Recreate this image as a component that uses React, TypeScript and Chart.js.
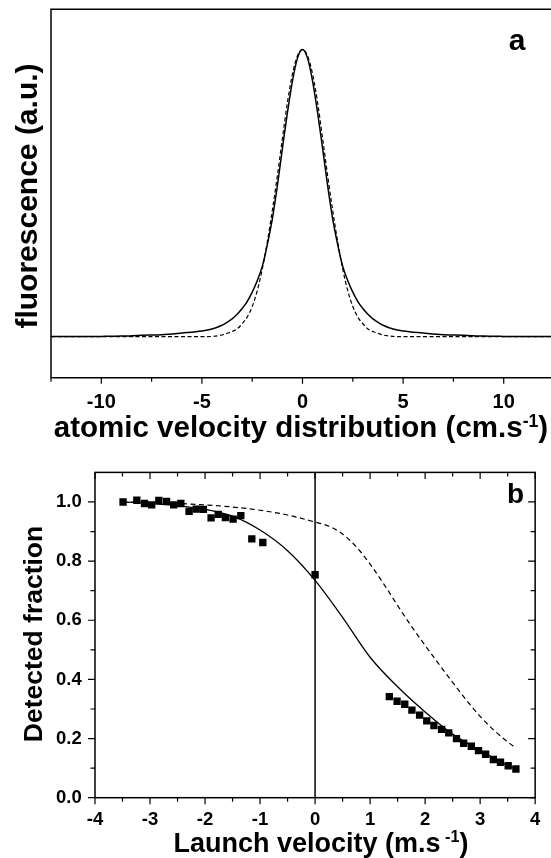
import React, { useEffect, useRef } from 'react';
import { Chart, registerables } from 'chart.js';

Chart.register(...registerables);

const FONT = "'Liberation Sans', Arial, Helvetica, sans-serif";

// ---------- Panel a: fluorescence profiles ----------
const TOP_X = [-12.5, -11, -10, -9, -8, -7, -6, -5, -4.5, -4, -3.75, -3.5, -3.25, -3, -2.75, -2.5, -2.25, -2, -1.75, -1.5, -1.25, -1, -0.75, -0.5, -0.25, 0,
  0.25, 0.5, 0.75, 1, 1.25, 1.5, 1.75, 2, 2.25, 2.5, 2.75, 3, 3.25, 3.5, 3.75, 4, 4.5, 5, 6, 7, 8, 9, 10, 11, 12.35];
const TOP_SOLID = [0.0003, 0.0006, 0.001, 0.002, 0.005, 0.007, 0.013, 0.02, 0.027, 0.04, 0.05, 0.062, 0.078, 0.098, 0.122, 0.155, 0.195, 0.245, 0.32, 0.41, 0.525, 0.655, 0.78, 0.89, 0.97, 1.0,
  0.97, 0.89, 0.78, 0.655, 0.525, 0.41, 0.32, 0.245, 0.195, 0.155, 0.122, 0.098, 0.078, 0.062, 0.05, 0.04, 0.027, 0.02, 0.013, 0.007, 0.005, 0.002, 0.001, 0.0006, 0.0003];
const TOP_DASHED = [0, 0, 0, 0, 0, 0, 0, 0, 0.001, 0.006, 0.012, 0.018, 0.027, 0.045, 0.068, 0.105, 0.16, 0.235, 0.33, 0.44, 0.56, 0.69, 0.815, 0.915, 0.978, 1.0,
  0.978, 0.915, 0.815, 0.69, 0.56, 0.44, 0.33, 0.235, 0.16, 0.105, 0.068, 0.045, 0.027, 0.018, 0.012, 0.006, 0.001, 0, 0, 0, 0, 0, 0, 0, 0];
const TOP_X_TICKS = [-10, -5, 0, 5, 10];
const TOP_X_TICK_LABELS = ['-10', '-5', '0', '5', '10'];
const TOP_X_MINOR = [-12.5, -7.5, -2.5, 2.5, 7.5];

// ---------- Panel b: detected fraction ----------
const B_PTS_X = [-3.49, -3.24, -3.10, -2.97, -2.84, -2.70, -2.57, -2.44, -2.29, -2.16, -2.03, -1.89, -1.76, -1.63, -1.49, -1.35, -1.15, -0.95, 0.0,
  1.35, 1.49, 1.63, 1.76, 1.90, 2.03, 2.16, 2.30, 2.43, 2.57, 2.70, 2.84, 2.97, 3.10, 3.24, 3.37, 3.51, 3.65];
const B_PTS_Y = [1.000, 1.006, 0.995, 0.990, 1.005, 1.002, 0.990, 0.995, 0.968, 0.976, 0.975, 0.946, 0.958, 0.947, 0.942, 0.954, 0.875, 0.863, 0.754,
  0.342, 0.326, 0.316, 0.296, 0.279, 0.260, 0.244, 0.231, 0.219, 0.200, 0.184, 0.174, 0.159, 0.147, 0.129, 0.120, 0.108, 0.097];
const B_FIT_X = [-3.5, -3, -2.5, -2, -1.5, -1, -0.5, 0, 0.5, 1, 1.5, 2, 2.5, 3, 3.5, 3.65];
const B_SOLID_Y = [1.0, 0.995, 0.988, 0.975, 0.952, 0.905, 0.835, 0.735, 0.61, 0.475, 0.375, 0.29, 0.215, 0.16, 0.108, 0.097];
const B_DASH_X = [-3.5, -3, -2.5, -2, -1.5, -1, -0.5, 0, 0.25, 0.5, 0.75, 1, 1.25, 1.5, 1.75, 2, 2.25, 2.5, 2.75, 3, 3.25, 3.5, 3.65];
const B_DASHED_Y = [1.0, 0.998, 0.995, 0.99, 0.983, 0.972, 0.956, 0.932, 0.918, 0.892, 0.848, 0.79, 0.722, 0.65, 0.58, 0.515, 0.452, 0.39, 0.33, 0.275, 0.228, 0.189, 0.168];
const B_VLINE_X = 0;
const B_X_TICKS = [-4, -3, -2, -1, 0, 1, 2, 3, 4];
const B_X_TICK_LABELS = ['-4', '-3', '-2', '-1', '0', '1', '2', '3', '4'];
const B_X_MINOR = [-3.5, -2.5, -1.5, -0.5, 0.5, 1.5, 2.5, 3.5];
const B_Y_TICKS = [0, 0.2, 0.4, 0.6, 0.8, 1.0];
const B_Y_TICK_LABELS = ['0.0', '0.2', '0.4', '0.6', '0.8', '1.0'];
const B_Y_MINOR = [0.1, 0.3, 0.5, 0.7, 0.9];

type Part = [string, boolean];

function drawRich(ctx: CanvasRenderingContext2D, parts: Part[], cx: number, baseline: number, size: number) {
  let total = 0;
  const widths = parts.map(([t, sup]) => {
    ctx.font = `bold ${sup ? size * 0.6 : size}px ${FONT}`;
    const w = ctx.measureText(t).width;
    total += w;
    return w;
  });
  let x = cx - total / 2;
  ctx.textAlign = 'left';
  ctx.textBaseline = 'alphabetic';
  parts.forEach(([t, sup], i) => {
    ctx.font = `bold ${sup ? size * 0.6 : size}px ${FONT}`;
    ctx.fillText(t, x, sup ? baseline - size * 0.36 : baseline);
    x += widths[i];
  });
}

function drawRotated(ctx: CanvasRenderingContext2D, text: string, baselineX: number, cy: number, size: number) {
  ctx.save();
  ctx.translate(baselineX, cy);
  ctx.rotate(-Math.PI / 2);
  ctx.font = `bold ${size}px ${FONT}`;
  ctx.textAlign = 'center';
  ctx.textBaseline = 'alphabetic';
  ctx.fillText(text, 0, 0);
  ctx.restore();
}

const topDecor = {
  id: 'topDecor',
  afterDraw(chart: any) {
    const { ctx, chartArea: a, scales } = chart;
    const x = scales.x;
    ctx.save();
    ctx.strokeStyle = '#000';
    ctx.lineWidth = 1.5;
    ctx.beginPath();
    ctx.moveTo(a.right + 2, a.top);
    ctx.lineTo(a.left, a.top);
    ctx.lineTo(a.left, a.bottom);
    ctx.lineTo(a.right + 2, a.bottom);
    ctx.stroke();
    ctx.lineWidth = 1.2;
    ctx.beginPath();
    TOP_X_TICKS.forEach((v) => {
      const p = x.getPixelForValue(v);
      ctx.moveTo(p, a.bottom);
      ctx.lineTo(p, a.bottom + 6);
    });
    TOP_X_MINOR.forEach((v) => {
      const p = x.getPixelForValue(v);
      ctx.moveTo(p, a.bottom);
      ctx.lineTo(p, a.bottom + 4);
    });
    ctx.stroke();
    ctx.fillStyle = '#000';
    drawRotated(ctx, 'fluorescence (a.u.)', 37, 196, 30);
    drawRich(ctx, [['atomic velocity distribution (cm.s', false], ['-1', true], [')', false]], 301, 437.3, 29.5);
    ctx.font = `bold 30px ${FONT}`;
    ctx.textAlign = 'center';
    ctx.textBaseline = 'alphabetic';
    ctx.fillText('a', 517, 50);
    ctx.restore();
  },
};

const botDecor = {
  id: 'botDecor',
  afterDraw(chart: any) {
    const { ctx, chartArea: a, scales } = chart;
    const x = scales.x;
    const y = scales.y;
    ctx.save();
    ctx.strokeStyle = '#000';
    ctx.lineWidth = 1.5;
    ctx.strokeRect(a.left, a.top, a.right - a.left, a.bottom - a.top);
    ctx.lineWidth = 1.2;
    ctx.beginPath();
    const xt = (vals: number[], len: number) => vals.forEach((v) => {
      const p = x.getPixelForValue(v);
      ctx.moveTo(p, a.bottom);
      ctx.lineTo(p, a.bottom + len);
      ctx.moveTo(p, a.top);
      ctx.lineTo(p, a.top + len);
    });
    const yt = (vals: number[], len: number) => vals.forEach((v) => {
      const p = y.getPixelForValue(v);
      ctx.moveTo(a.left, p);
      ctx.lineTo(a.left - len, p);
      ctx.moveTo(a.right, p);
      ctx.lineTo(a.right - len, p);
    });
    xt(B_X_TICKS, 6.5);
    xt(B_X_MINOR, 4);
    yt(B_Y_TICKS, 7);
    yt(B_Y_MINOR, 4.5);
    ctx.stroke();
    ctx.fillStyle = '#000';
    drawRotated(ctx, 'Detected fraction', 41.5, 186, 26.5);
    drawRich(ctx, [['Launch velocity (m.s', false], [' -1', true], [')', false]], 321, 403.7, 27);
    ctx.font = `bold 28px ${FONT}`;
    ctx.textAlign = 'center';
    ctx.textBaseline = 'alphabetic';
    ctx.fillText('b', 515.6, 55.3);
    ctx.restore();
  },
};

export default function App() {
  const topRef = useRef<HTMLCanvasElement>(null);
  const botRef = useRef<HTMLCanvasElement>(null);

  useEffect(() => {
    const tickFont = (size: number) => ({ family: FONT, size, weight: 'bold' as const });

    const top = new Chart(topRef.current as HTMLCanvasElement, {
      type: 'line',
      data: {
        datasets: [
          {
            data: TOP_X.map((v, i) => ({ x: v, y: TOP_SOLID[i] })),
            borderColor: '#000',
            borderWidth: 1.5,
            pointRadius: 0,
            cubicInterpolationMode: 'monotone',
            fill: false,
          },
          {
            data: TOP_X.map((v, i) => ({ x: v, y: TOP_DASHED[i] })),
            borderColor: '#000',
            borderWidth: 1.2,
            borderDash: [4, 2.5],
            pointRadius: 0,
            cubicInterpolationMode: 'monotone',
            fill: false,
          },
        ],
      },
      options: {
        animation: false,
        responsive: false,
        devicePixelRatio: 1,
        layout: { padding: { top: 9.3, left: 0, right: 0, bottom: 0 } },
        plugins: { legend: { display: false }, tooltip: { enabled: false } },
        scales: {
          x: {
            type: 'linear',
            min: -12.5,
            max: 12.35,
            grid: { display: false, drawTicks: false },
            border: { display: false },
            ticks: {
              padding: 12.3,
              color: '#000',
              font: tickFont(20),
              autoSkip: false,
              maxRotation: 0,
              callback: (v: any) => {
                const i = TOP_X_TICKS.indexOf(Number(v));
                return i >= 0 ? TOP_X_TICK_LABELS[i] : '';
              },
            },
            afterBuildTicks: (s: any) => {
              s.ticks = TOP_X_TICKS.map((v) => ({ value: v }));
            },
            afterFit: (s: any) => {
              s.height = 448 - 377.7;
            },
          },
          y: {
            type: 'linear',
            min: -0.1428,
            max: 1.14,
            grid: { display: false, drawTicks: false },
            border: { display: false },
            ticks: { display: false },
            afterFit: (s: any) => {
              s.width = 51;
            },
          },
        },
      },
      plugins: [topDecor],
    } as any);

    const bot = new Chart(botRef.current as HTMLCanvasElement, {
      type: 'line',
      data: {
        datasets: [
          {
            type: 'scatter',
            data: B_PTS_X.map((v, i) => ({ x: v, y: B_PTS_Y[i] })),
            pointStyle: 'rect',
            pointRadius: 5.2,
            backgroundColor: '#000',
            borderColor: '#000',
            borderWidth: 0,
            showLine: false,
          },
          {
            data: B_FIT_X.map((v, i) => ({ x: v, y: B_SOLID_Y[i] })),
            borderColor: '#000',
            borderWidth: 1.3,
            pointRadius: 0,
            cubicInterpolationMode: 'monotone',
            fill: false,
          },
          {
            data: B_DASH_X.map((v, i) => ({ x: v, y: B_DASHED_Y[i] })),
            borderColor: '#000',
            borderWidth: 1.2,
            borderDash: [5, 3.5],
            pointRadius: 0,
            cubicInterpolationMode: 'monotone',
            fill: false,
          },
          {
            data: [{ x: B_VLINE_X, y: 0 }, { x: B_VLINE_X, y: 1.1 }],
            borderColor: '#000',
            borderWidth: 1.5,
            pointRadius: 0,
            fill: false,
          },
        ],
      },
      options: {
        animation: false,
        responsive: false,
        devicePixelRatio: 1,
        layout: { padding: { top: 17.7, left: 0, right: 3.7, bottom: 0 } },
        plugins: { legend: { display: false }, tooltip: { enabled: false } },
        scales: {
          x: {
            type: 'linear',
            min: -4,
            max: 4,
            grid: { display: false, drawTicks: false },
            border: { display: false },
            ticks: {
              padding: 10.7,
              color: '#000',
              font: tickFont(18.5),
              autoSkip: false,
              maxRotation: 0,
              callback: (v: any) => {
                const i = B_X_TICKS.indexOf(Number(v));
                return i >= 0 ? B_X_TICK_LABELS[i] : '';
              },
            },
            afterBuildTicks: (s: any) => {
              s.ticks = B_X_TICKS.map((v) => ({ value: v }));
            },
            afterFit: (s: any) => {
              s.height = 410 - (797.7 - 448);
            },
          },
          y: {
            type: 'linear',
            min: 0,
            max: 1.1,
            grid: { display: false, drawTicks: false },
            border: { display: false },
            ticks: {
              padding: 13.3,
              color: '#000',
              font: tickFont(18.5),
              autoSkip: false,
              callback: (v: any) => {
                const i = B_Y_TICKS.findIndex((t) => Math.abs(t - Number(v)) < 1e-9);
                return i >= 0 ? B_Y_TICK_LABELS[i] : '';
              },
            },
            afterBuildTicks: (s: any) => {
              s.ticks = B_Y_TICKS.map((v) => ({ value: v }));
            },
            afterFit: (s: any) => {
              s.width = 95;
            },
          },
        },
      },
      plugins: [botDecor],
    } as any);

    return () => {
      top.destroy();
      bot.destroy();
    };
  }, []);

  return (
    <div style={{ position: 'absolute', left: 0, top: 0, width: 551, height: 858, overflow: 'hidden', background: '#fff' }}>
      <canvas ref={topRef} width={551} height={448} style={{ position: 'absolute', left: 0, top: 0 }} />
      <canvas ref={botRef} width={551} height={410} style={{ position: 'absolute', left: 0, top: 448 }} />
    </div>
  );
}
